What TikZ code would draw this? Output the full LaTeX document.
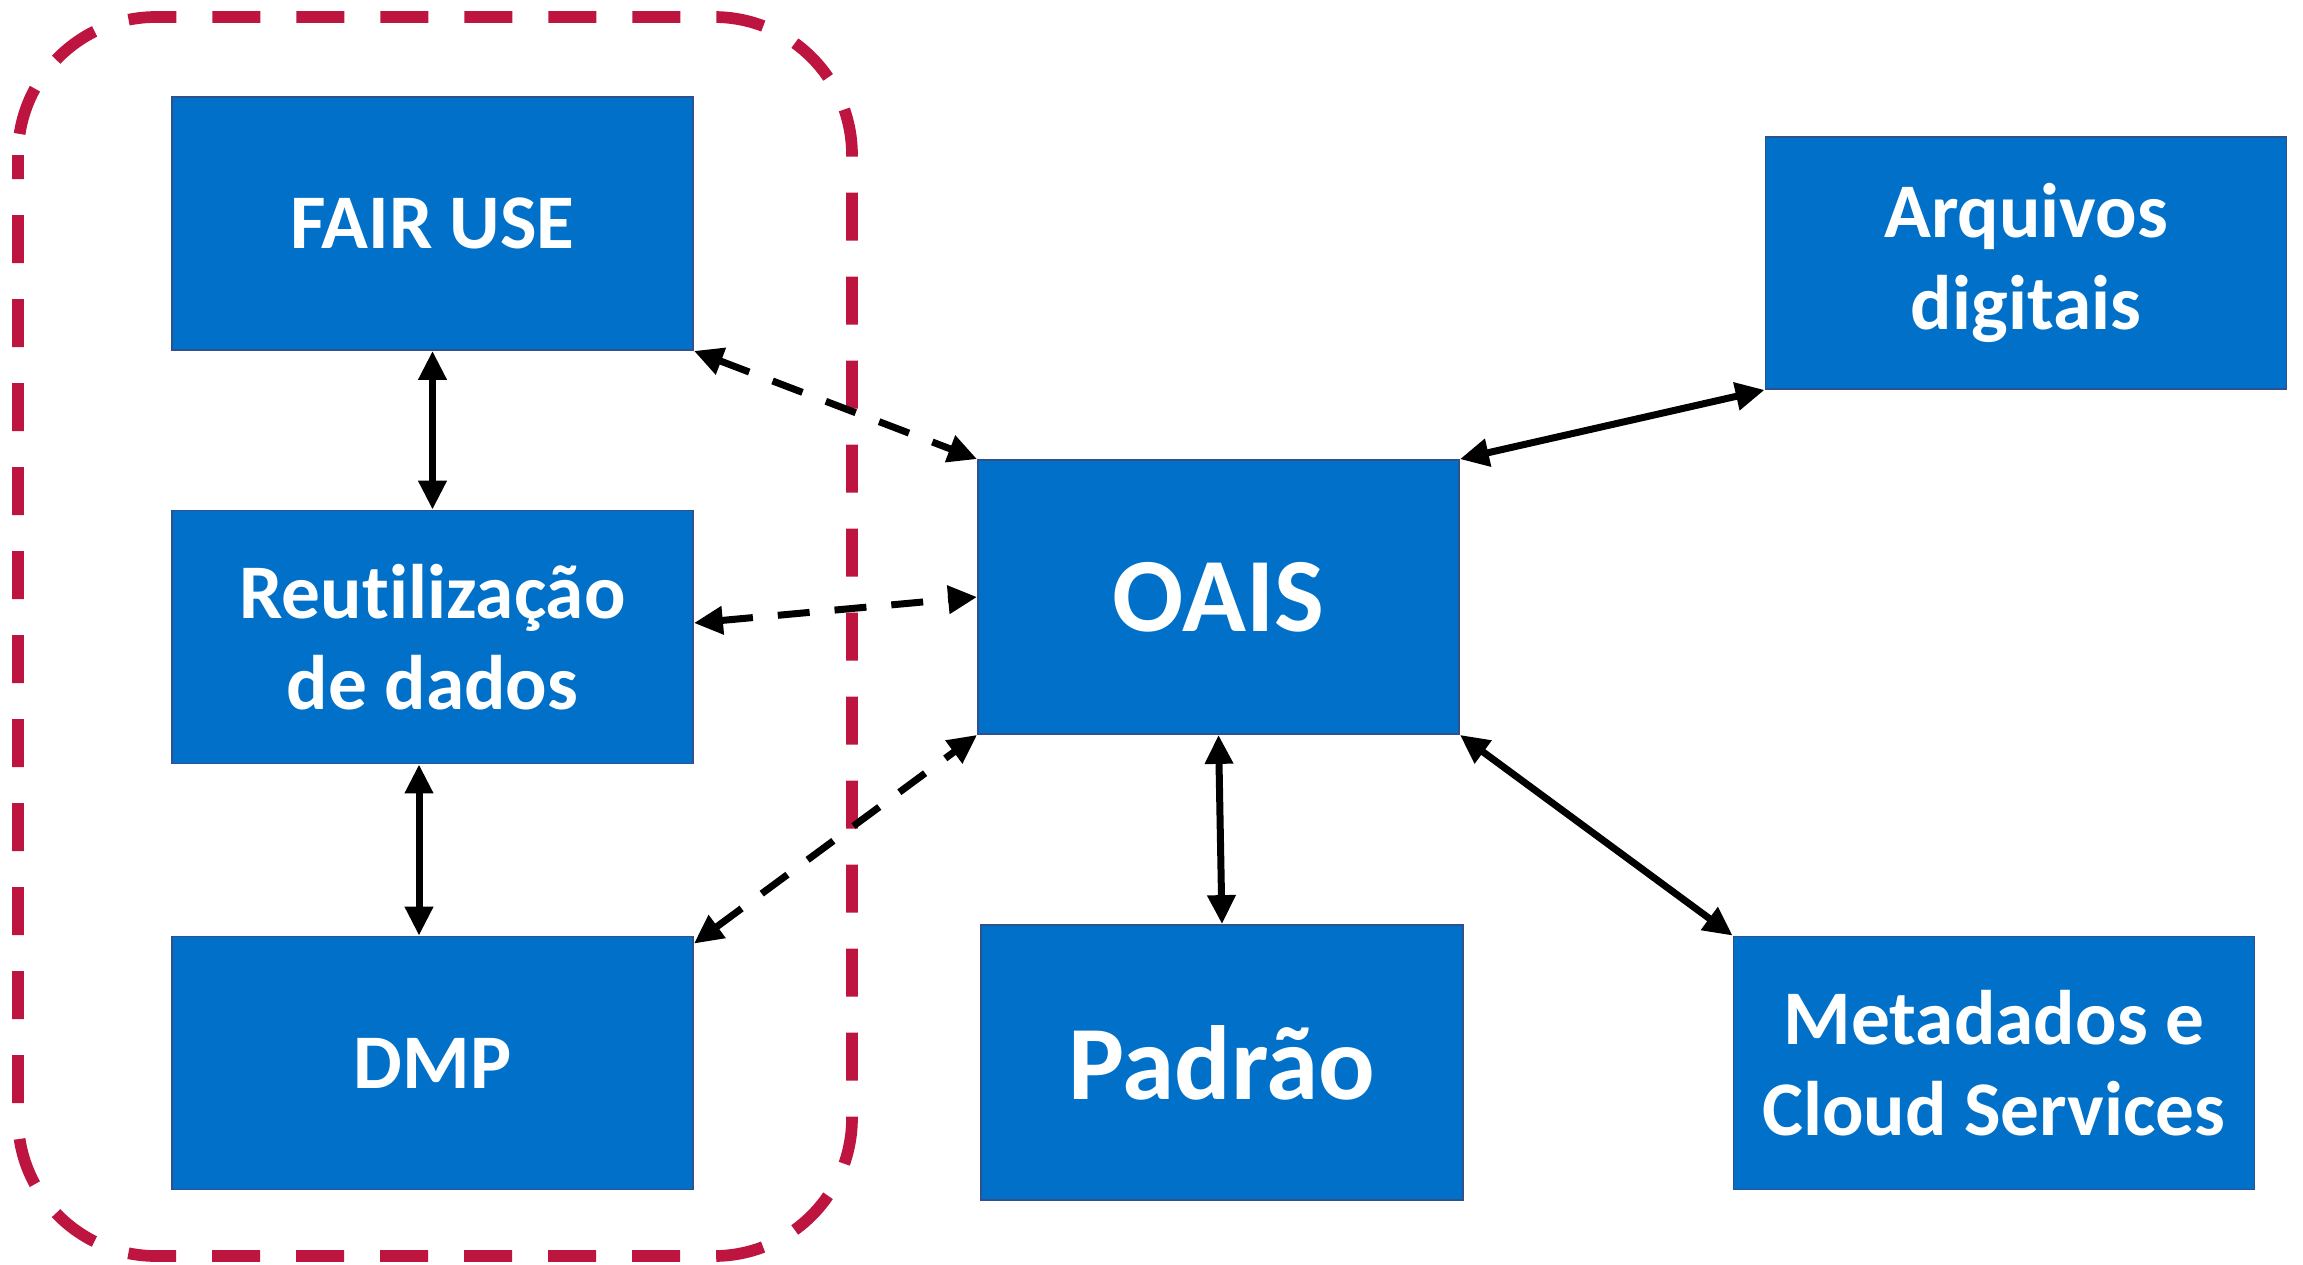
\documentclass[tikz,border=0pt]{standalone}
\usepackage{fontspec}
\setmainfont{Carlito}[Ligatures=NoCommon]
\usetikzlibrary{arrows.meta, positioning}
\definecolor{boxblue}{HTML}{0070C8}
\definecolor{boxedge}{HTML}{2F528F}
\definecolor{framered}{HTML}{BE1540}
\tikzstyle{block} = [rectangle, minimum width = 5.21cm, minimum height = 2.53cm, inner sep = 0pt,
text centered, align = center, fill = boxblue, draw = boxedge, line width = 0.5pt, text = white,
font = \fontsize{22}{26}\selectfont\bfseries]
\tikzstyle{bigblock} = [block, minimum width = 4.81cm, minimum height = 2.74cm,
font = \fontsize{30}{35}\selectfont\bfseries]
\tikzstyle{link} = [line width = 0.7mm, {Triangle[length=2.9mm,width=2.7mm]}-{Triangle[length=2.9mm,width=2.7mm]}]
\tikzstyle{dashlink} = [link, dash pattern = on 3.2mm off 2.5mm]

\begin{document}
\begin{tikzpicture}

    \useasboundingbox (0,0) rectangle (23.03,-12.64);

    % grupo de reutilizacao
    \draw[framered, line width = 1.17mm, dash pattern = on 4.8mm off 3.6mm, dash phase = 2.4mm, rounded corners = 13.8mm]
        (0.18,-0.17) rectangle (8.52,-12.56);

    \node (fair) [block] at (4.325,-2.235) {FAIR USE};
    \node (reuse) [block] at (4.325,-6.37) {Reutilização\\de dados};
    \node (dmp) [block] at (4.325,-10.63) {DMP};

    \node (oais) [bigblock] at (12.185,-5.97) {OAIS};
    \node (padrao) [bigblock, minimum width = 4.82cm, minimum height = 2.75cm] at (12.22,-10.625) {Padrão};
    \node (arquivos) [block, minimum height = 2.52cm] at (20.26,-2.63) {Arquivos\\digitais};
    \node (meta) [block] at (19.94,-10.63) {Metadados e\\Cloud Services};

    \draw[link] (fair.south) -- (reuse.north);
    \draw[link] ([xshift = -0.135cm]reuse.south) -- ([xshift = -0.135cm]dmp.north);

    \draw[dashlink] (fair.south east) -- (oais.north west);
    \draw[dashlink] ([yshift = 0.14cm]reuse.east) -- (oais.west);
    \draw[dashlink] ([yshift = -0.08cm]dmp.north east) -- (oais.south west);

    \draw[link] (oais.south) -- (padrao.north);
    \draw[link] (oais.north east) -- (arquivos.south west);
    \draw[link] (oais.south east) -- (meta.north west);

\end{tikzpicture}
\end{document}
